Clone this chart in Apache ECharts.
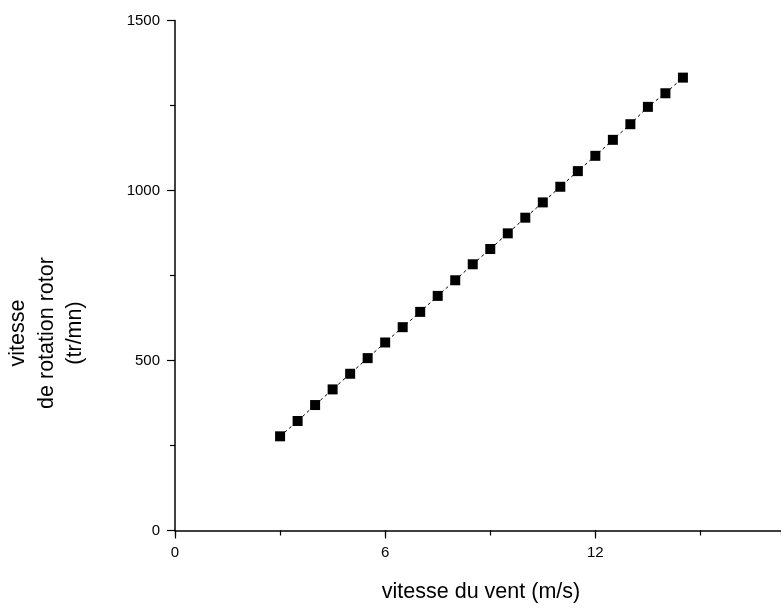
<!DOCTYPE html>
<html>
<head>
<meta charset="utf-8">
<script src="https://cdn.jsdelivr.net/npm/echarts@6/dist/echarts.min.js"></script>
<style>
  html, body { margin: 0; padding: 0; background: #fff; overflow: hidden; }
  #chart { width: 781px; height: 610px; }
</style>
</head>
<body>
<div id="chart"></div>
<script>
// Wind speed (m/s) and rotor rotation speed (tr/mn)
var windSpeed = [3, 3.5, 4, 4.5, 5, 5.5, 6, 6.5, 7, 7.5, 8, 8.5,
                 9, 9.5, 10, 10.5, 11, 11.5, 12, 12.5, 13, 13.5, 14, 14.5];
var rotorSpeed = [277, 322, 369, 415, 461, 507, 553, 598, 643, 690, 736, 783,
                  828, 874, 920, 965, 1011, 1057, 1102, 1149, 1195, 1246, 1286, 1332];
var xTicks = [0, 6, 12];
var yTicks = [0, 500, 1000, 1500];
// the x axis is cut off by the right edge a little past 17 m/s
var xEnd = 17.3;

var points = windSpeed.map(function (w, i) { return [w, rotorSpeed[i]]; });

var font = '"Liberation Sans", Arial, sans-serif';
var chart = echarts.init(document.getElementById('chart'), null, { renderer: 'canvas' });

var tickStyle = { color: '#000', width: 1.2 };

chart.setOption({
  animation: false,
  backgroundColor: '#ffffff',
  grid: { left: 175, right: 0, top: 20.5, bottom: 79.5, containLabel: false },
  xAxis: [
    {
      type: 'value',
      min: xTicks[0],
      max: xEnd,
      interval: 6,
      axisLine: { show: true, onZero: false, lineStyle: { color: '#000', width: 1.5 } },
      axisTick: { show: true, inside: false, length: 8, lineStyle: tickStyle },
      axisLabel: { color: '#000', fontFamily: font, fontSize: 15, margin: 15,
                   showMaxLabel: false,
                   formatter: function (v) { return String(v); } },
      splitLine: { show: false },
      z: 3
    },
    {
      // intermediate ticks every 3 m/s
      type: 'value',
      position: 'bottom',
      min: xTicks[0],
      max: xEnd,
      interval: 3,
      axisLine: { show: false, onZero: false },
      axisTick: { show: true, inside: false, length: 5, lineStyle: tickStyle },
      axisLabel: { show: false },
      splitLine: { show: false },
      z: 2
    }
  ],
  yAxis: {
    type: 'value',
    min: yTicks[0],
    max: yTicks[yTicks.length - 1],
    interval: 500,
    axisLine: { show: true, onZero: false, lineStyle: { color: '#000', width: 1.5 } },
    axisTick: { show: true, inside: false, length: 8, lineStyle: tickStyle },
    minorTick: { show: true, splitNumber: 2, length: 5, lineStyle: tickStyle },
    axisLabel: { color: '#000', fontFamily: font, fontSize: 15, margin: 15,
                 formatter: function (v) { return String(v); } },
    splitLine: { show: false }
  },
  graphic: [
    {
      type: 'text',
      x: 481, y: 592,
      style: {
        text: 'vitesse du vent (m/s)',
        font: '21.5px ' + font,
        fill: '#000',
        align: 'center',
        verticalAlign: 'middle'
      }
    },
    {
      type: 'text',
      x: 47, y: 333,
      rotation: Math.PI / 2,
      style: {
        text: 'vitesse\nde rotation rotor\n(tr/mn)',
        font: '21.5px ' + font,
        lineHeight: 28.5,
        fill: '#000',
        align: 'center',
        verticalAlign: 'middle'
      }
    }
  ],
  series: [{
    type: 'line',
    xAxisIndex: 0,
    data: points,
    symbol: 'rect',
    symbolSize: 10,
    showAllSymbol: true,
    itemStyle: { color: '#000' },
    lineStyle: { color: '#000', width: 1, type: [3, 3] },
    clip: false
  }]
});
</script>
</body>
</html>
